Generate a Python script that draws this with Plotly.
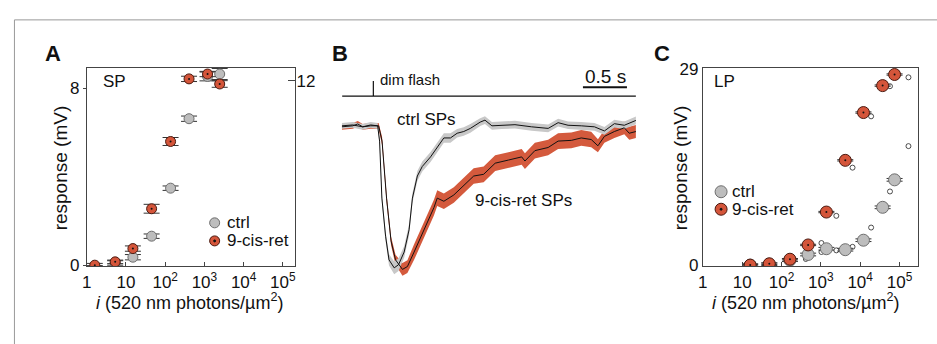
import plotly.graph_objects as go

W, H = 937, 344
FONT = "Liberation Sans, Arial, sans-serif"

# ---------------- Panel A (SP intensity-response) ----------------
a_int = [1.6, 5.3, 15, 45, 137, 405, 1200, 2450]
a_resp_ctrl = [-0.12, 0.10, 0.36, 1.31, 3.48, 6.62, 8.53, 8.64]
a_err_ctrl = [0.10, 0.10, 0.12, 0.10, 0.10, 0.12, 0.20, 0.25]
a_resp_ret = [0.0, 0.15, 0.75, 2.55, 5.59, 8.42, 8.64, 8.19]
a_err_ret = [0.08, 0.08, 0.12, 0.20, 0.18, 0.12, 0.12, 0.15]

# ---------------- Panel B (averaged single-photon responses) ----------------
t_ctrl = [-0.358, -0.234, -0.121, -0.030, 0.049, 0.071, 0.097, 0.139, 0.178, 0.237,
          0.286, 0.350, 0.406, 0.444, 0.500, 0.556, 0.650, 0.726, 0.801, 0.876,
          0.952, 1.027, 1.102, 1.214, 1.268, 1.347, 1.459, 1.609, 1.798, 1.986,
          2.099, 2.212, 2.362, 2.512, 2.625, 2.738, 2.851, 2.983]
v_ctrl = [0.007, 0.013, 0.0, 0.013, 0.007, -0.1, -0.5, -0.767, -0.933, -0.989,
          -0.967, -0.878, -0.722, -0.5, -0.345, -0.278, -0.211, -0.145, -0.078, -0.078,
          -0.045, -0.033, -0.011, 0.033, 0.047, 0.007, 0.011, 0.015, 0.0, -0.011,
          0.029, 0.011, 0.007, 0.0, -0.029, 0.022, 0.011, 0.045]
sd_ctrl = [0.02, 0.02, 0.02, 0.02, 0.02, 0.025, 0.03, 0.035, 0.04, 0.045,
           0.045, 0.04, 0.04, 0.035, 0.035, 0.035, 0.035, 0.035, 0.033, 0.033,
           0.03, 0.03, 0.03, 0.027, 0.027, 0.027, 0.027, 0.027, 0.027, 0.027,
           0.027, 0.027, 0.027, 0.027, 0.027, 0.027, 0.027, 0.027]

t_ret = [-0.358, -0.234, -0.177, -0.121, -0.030, 0.060, 0.099, 0.150, 0.201, 0.252,
         0.331, 0.387, 0.463, 0.576, 0.688, 0.726, 0.801, 0.914, 1.027, 1.140,
         1.253, 1.384, 1.535, 1.685, 1.722, 1.835, 1.986, 2.099, 2.249, 2.362,
         2.475, 2.551, 2.625, 2.738, 2.851, 2.907, 2.983]
v_ret = [0.0, 0.007, 0.02, 0.0, 0.007, 0.007, -0.1, -0.5, -0.8, -0.933,
         -1.0, -0.98, -0.878, -0.722, -0.567, -0.5, -0.522, -0.478, -0.411, -0.345,
         -0.333, -0.255, -0.233, -0.211, -0.24, -0.167, -0.145, -0.1, -0.095, -0.078,
         -0.089, -0.133, -0.067, -0.033, -0.007, -0.045, -0.033]
sd_ret = [0.02, 0.02, 0.02, 0.02, 0.02, 0.02, 0.03, 0.03, 0.03, 0.035,
          0.045, 0.045, 0.055, 0.055, 0.055, 0.055, 0.055, 0.055, 0.055, 0.055,
          0.055, 0.055, 0.055, 0.055, 0.055, 0.055, 0.055, 0.055, 0.055, 0.055,
          0.055, 0.045, 0.045, 0.045, 0.045, 0.045, 0.045]

stim_t = [-0.354, 0.0, 0.0, 0.0, 2.983]
stim_v = [0.215, 0.215, 0.322, 0.215, 0.215]
scalebar_t = [2.381, 2.881]
scalebar_v = [0.278, 0.278]

# ---------------- Panel C (LP intensity-response) ----------------
c_int = [16, 49, 164, 475, 1385, 4180, 12100, 37200, 74800]
c_resp_ctrl = [0.0, 0.14, 0.73, 1.57, 2.42, 2.28, 3.68, 8.54, 12.6]
c_err_ctrl = [0.2, 0.2, 0.2, 0.2, 0.2, 0.2, 0.2, 0.2, 0.2]
c_resp_ret = [0.0, 0.2, 0.87, 2.98, 7.84, 15.48, 22.54, 26.52, 28.16]
c_err_ret = [0.1, 0.1, 0.1, 0.1, 0.1, 0.1, 0.1, 0.1, 0.1]
c_int_open = [415, 1035, 1035, 2475, 6390, 2475, 6390, 18960, 18960, 57200, 57200, 168700, 168700]
c_resp_open = [0.91, 3.26, 1.94, 2.18, 2.7, 7.28, 14.4, 5.55, 21.98, 10.88, 26.43, 17.58, 27.74]

tick_vals = [1, 10, 100, 1000, 10000, 100000]
tick_text = ["1", "10", "10<sup>2</sup>", "10<sup>3</sup>", "10<sup>4</sup>", "10<sup>5</sup>"]

GRAY_FILL, GRAY_LINE = "#bdbdbd", "#6e6e6e"
RED_FILL, RED_LINE = "#d4553a", "#4a1a10"
BAND_GRAY, BAND_RED = "#c8c8c8", "#d45a3d"


def px(x):
    return x / W


def py(y):
    return 1 - y / H


fig = go.Figure()

# ---- A ----
fig.add_trace(go.Scatter(x=a_int, y=a_resp_ctrl, mode="markers", xaxis="x", yaxis="y",
                         marker=dict(size=10, color=GRAY_FILL, line=dict(color=GRAY_LINE, width=1)),
                         error_y=dict(type="data", array=a_err_ctrl, color="#333", thickness=1, width=8),
                         showlegend=False))
fig.add_trace(go.Scatter(x=a_int, y=a_resp_ret, mode="markers", xaxis="x", yaxis="y",
                         marker=dict(size=10, color=RED_FILL, line=dict(color=RED_LINE, width=1)),
                         error_y=dict(type="data", array=a_err_ret, color="#333", thickness=1, width=8),
                         showlegend=False))
fig.add_trace(go.Scatter(x=a_int, y=a_resp_ret, mode="markers", xaxis="x", yaxis="y",
                         marker=dict(size=2, color="#111"), showlegend=False))
# empty trace so the right-hand axis (y2) is drawn
fig.add_trace(go.Scatter(x=[], y=[], mode="markers", xaxis="x", yaxis="y2",
                         showlegend=False, hoverinfo="skip"))


# ---- B ----
def band(t, v, sd, color):
    upper = [a + b for a, b in zip(v, sd)]
    lower = [a - b for a, b in zip(v, sd)]
    return go.Scatter(x=t + t[::-1], y=upper + lower[::-1], fill="toself", fillcolor=color,
                      line=dict(width=0, color=color), mode="lines", xaxis="x2", yaxis="y3",
                      showlegend=False, hoverinfo="skip")


fig.add_trace(band(t_ret, v_ret, sd_ret, BAND_RED))
fig.add_trace(band(t_ctrl, v_ctrl, sd_ctrl, BAND_GRAY))
fig.add_trace(go.Scatter(x=t_ret, y=v_ret, mode="lines", xaxis="x2", yaxis="y3",
                         line=dict(color="#111", width=1), showlegend=False))
fig.add_trace(go.Scatter(x=t_ctrl, y=v_ctrl, mode="lines", xaxis="x2", yaxis="y3",
                         line=dict(color="#111", width=1), showlegend=False))
fig.add_trace(go.Scatter(x=stim_t, y=stim_v, mode="lines", xaxis="x2", yaxis="y3",
                         line=dict(color="#111", width=1.2), showlegend=False))
fig.add_trace(go.Scatter(x=scalebar_t, y=scalebar_v, mode="lines", xaxis="x2", yaxis="y3",
                         line=dict(color="#111", width=2), showlegend=False))

# ---- C ----
fig.add_trace(go.Scatter(x=c_int_open, y=c_resp_open, mode="markers", xaxis="x3", yaxis="y4",
                         marker=dict(size=5, color="white", line=dict(color="#222", width=0.8)),
                         showlegend=False))
fig.add_trace(go.Scatter(x=c_int, y=c_resp_ctrl, mode="markers", xaxis="x3", yaxis="y4",
                         marker=dict(size=12, color=GRAY_FILL, line=dict(color=GRAY_LINE, width=1)),
                         error_y=dict(type="data", array=c_err_ctrl, color="#333", thickness=1, width=8),
                         showlegend=False))
fig.add_trace(go.Scatter(x=c_int, y=c_resp_ret, mode="markers", xaxis="x3", yaxis="y4",
                         marker=dict(size=12, color=RED_FILL, line=dict(color=RED_LINE, width=1)),
                         error_y=dict(type="data", array=c_err_ret, color="#333", thickness=1, width=8),
                         showlegend=False))
fig.add_trace(go.Scatter(x=c_int, y=c_resp_ret, mode="markers", xaxis="x3", yaxis="y4",
                         marker=dict(size=2, color="#111"), showlegend=False))

tickfont = dict(family=FONT, size=17, color="#111")
axline = dict(showline=True, linecolor="#444", linewidth=1, mirror=True, showgrid=False, zeroline=False)

fig.update_layout(
    width=W, height=H, margin=dict(l=0, r=0, t=0, b=0),
    paper_bgcolor="white", plot_bgcolor="white",
    font=dict(family=FONT, color="#111"),
    xaxis=dict(type="log", range=[0, 5.32], domain=[px(82.3), px(292.3)], anchor="y",
               tickvals=tick_vals, ticktext=tick_text, ticks="inside", ticklen=4,
               tickcolor="#444", tickfont=tickfont, **axline),
    yaxis=dict(range=[-0.05, 8.93], domain=[py(271.7), py(62.7)], anchor="x",
               tickvals=[0, 8], ticks="outside", ticklen=3, tickcolor="#444",
               tickfont=tickfont, **axline),
    yaxis2=dict(range=[-0.074, 12.87], overlaying="y", side="right", anchor="x",
                tickvals=[12], ticks="inside", ticklen=7, tickcolor="#444",
                tickfont=tickfont, showgrid=False, zeroline=False, showline=False),
    xaxis2=dict(range=[-0.358, 2.983], domain=[px(339), px(635)], anchor="y3", visible=False),
    yaxis3=dict(range=[-1.1, 0.42], domain=[py(290), py(62)], anchor="x2", visible=False),
    xaxis3=dict(type="log", range=[0, 5.48], domain=[px(702.3), px(919.3)], anchor="y4",
                tickvals=tick_vals, ticktext=tick_text, ticks="inside", ticklen=4,
                tickcolor="#444", tickfont=tickfont, **axline),
    yaxis4=dict(range=[-0.17, 29.18], domain=[py(271.7), py(62.7)], anchor="x3",
                tickvals=[0, 29], ticks="", tickfont=tickfont, **axline),
)

ann = []


def text(x, y, s, size=17, xanchor="center", bold=False, angle=0):
    ann.append(dict(x=px(x), y=py(y), xref="paper", yref="paper", text=("<b>%s</b>" % s) if bold else s,
                    showarrow=False, xanchor=xanchor, yanchor="middle", textangle=angle,
                    font=dict(family=FONT, size=size, color="#111")))


text(48, 48, "A", 22, bold=True)
text(337, 48, "B", 22, bold=True)
text(661, 48, "C", 22, bold=True)
text(56, 168, "response (mV)", 19, angle=-90)
text(680, 168, "response (mV)", 19, angle=-90)
text(186, 309, "<i>i</i> (520 nm photons/µm<sup>2</sup>)", 18)
text(806, 309, "<i>i</i> (520 nm photons/µm<sup>2</sup>)", 18)
text(97, 77, "SP", 17, xanchor="left")
text(712, 77, "LP", 17, xanchor="left")
text(221, 226, "ctrl", 17, xanchor="left")
text(221, 245, "9-cis-ret", 17, xanchor="left")
text(730, 193, "ctrl", 17, xanchor="left")
text(730, 212, "9-cis-ret", 17, xanchor="left")
text(375, 75, "dim flash", 15, xanchor="left")
text(604, 72, "0.5 s", 19)
text(424, 117, "ctrl SPs", 17)
text(522, 203, "9-cis-ret SPs", 17)
fig.update_layout(annotations=ann)

shapes = [dict(type="rect", xref="paper", yref="paper", x0=px(9.5), x1=1.05, y0=-0.05, y1=py(12.5),
               line=dict(color="#999", width=1), fillcolor="rgba(0,0,0,0)", layer="below")]


def circ(cx, cy, d, fill, line):
    shapes.append(dict(type="circle", xref="paper", yref="paper", xsizemode="pixel", ysizemode="pixel",
                       xanchor=px(cx), yanchor=py(cy), x0=-d / 2, x1=d / 2, y0=-d / 2, y1=d / 2,
                       fillcolor=fill, line=dict(color=line, width=1)))


circ(211, 226, 10, GRAY_FILL, GRAY_LINE)
circ(211, 245, 10, RED_FILL, RED_LINE)
circ(211, 245, 2, "#111", "#111")
circ(720.7, 193.3, 12, GRAY_FILL, GRAY_LINE)
circ(720.7, 211.7, 12, RED_FILL, RED_LINE)
circ(720.7, 211.7, 2, "#111", "#111")
fig.update_layout(shapes=shapes)

fig.write_html("out.html")
